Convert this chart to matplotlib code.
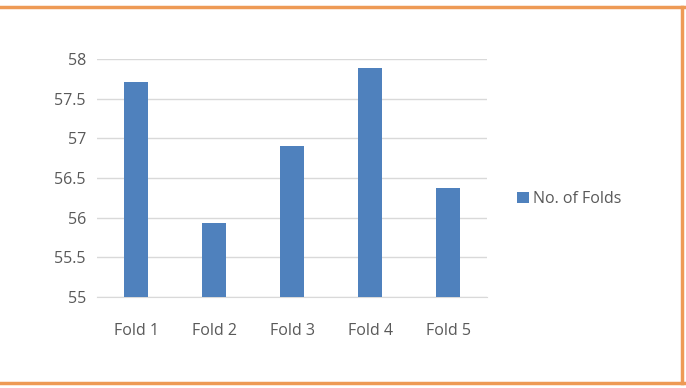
import matplotlib
matplotlib.use("Agg")
import matplotlib.pyplot as plt
from matplotlib.lines import Line2D

folds = ["Fold 1", "Fold 2", "Fold 3", "Fold 4", "Fold 5"]
values = [57.71, 55.93, 56.90, 57.89, 56.38]
yticks = [55, 55.5, 56, 56.5, 57, 57.5, 58]
ytick_labels = ["55", "55.5", "56", "56.5", "57", "57.5", "58"]
series_name = "No. of Folds"

plt.rcParams['font.family'] = ['Open Sans', 'DejaVu Sans']

fig = plt.figure(figsize=(6.86, 3.88), dpi=100)
ax = fig.add_axes([97 / 686, 1 - 297 / 388, 390 / 686, 238 / 388])

ax.bar(range(len(folds)), values, width=0.315, color="#4F81BD",
       label=series_name, zorder=3)
ax.set_xlim(-0.5, len(folds) - 0.5)
ax.set_ylim(55, 58)
ax.set_yticks(yticks)
ax.set_yticklabels(ytick_labels)
ax.set_xticks(range(len(folds)))
ax.set_xticklabels(folds)
ax.grid(axis="y", color="#D9D9D9", linewidth=1, zorder=0)
for s in ["top", "right", "left"]:
    ax.spines[s].set_visible(False)
ax.spines["bottom"].set_color("#D9D9D9")
ax.tick_params(length=0, labelsize=11.5, colors="#595959", pad=8)
ax.tick_params(axis="x", pad=19)

ax.legend(loc="center left", bbox_to_anchor=(503 / 686, 1 - 199 / 388),
          bbox_transform=fig.transFigure, frameon=False,
          fontsize=11.5, handlelength=0.7, handleheight=0.7,
          handletextpad=0.3, labelcolor="#595959")

# orange frame around the chart area
orange = "#EE9A55"
fig.add_artist(Line2D([0, 684 / 686], [1 - 6.5 / 388] * 2, color=orange, lw=2.5,
                      transform=fig.transFigure))
fig.add_artist(Line2D([682 / 686] * 2, [1 - 6.5 / 388, 1 - 382.5 / 388], color=orange,
                      lw=2.5, transform=fig.transFigure))
fig.add_artist(Line2D([0, 684 / 686], [1 - 382.5 / 388] * 2, color=orange, lw=2.5,
                      transform=fig.transFigure))

fig.savefig("out.png", dpi=100)
